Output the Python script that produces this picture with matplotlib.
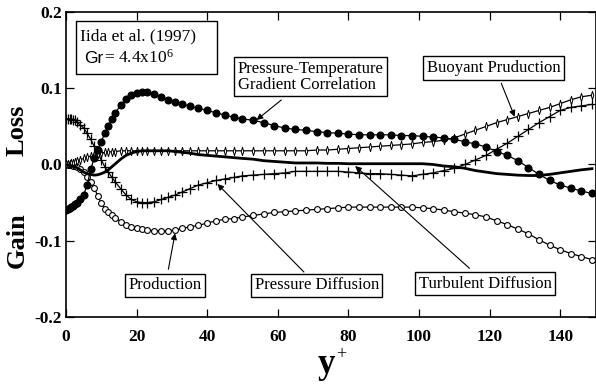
import matplotlib
matplotlib.use("Agg")
import matplotlib.pyplot as plt
from matplotlib.patches import Rectangle

plt.rcParams['font.family'] = ['Liberation Serif', 'DejaVu Serif']
plt.rcParams['mathtext.fontset'] = 'custom'
plt.rcParams['mathtext.rm'] = 'Liberation Serif'
plt.rcParams['mathtext.default'] = 'regular'

# ---------------- data ----------------
yplus = [0, 0.5, 1, 1.5, 2, 2.5, 3, 4, 5, 6, 7, 8, 9, 10, 11, 12, 13, 14, 15.5, 17,
         18.5, 20, 21.5, 23, 25, 27, 29, 31, 33, 35, 37.5, 40, 42.5, 45, 47.5, 50,
         53, 56, 59, 62, 65, 68, 71, 74, 77, 80, 83, 86, 89, 92, 95, 98, 101, 104,
         107, 110, 113, 116, 119, 122, 125, 128, 131, 134, 137, 140, 143, 146, 149]

ptgc = [-0.060, -0.059, -0.057, -0.056, -0.054, -0.052, -0.050, -0.046, -0.040, -0.027,
        -0.006, 0.008, 0.019, 0.030, 0.041, 0.051, 0.060, 0.068, 0.078, 0.086,
        0.091, 0.094, 0.095, 0.095, 0.093, 0.089, 0.085, 0.082, 0.079, 0.077,
        0.074, 0.071, 0.068, 0.065, 0.062, 0.060, 0.058, 0.055, 0.051, 0.048,
        0.046, 0.045, 0.043, 0.042, 0.041, 0.040, 0.039, 0.039, 0.039, 0.039,
        0.038, 0.038, 0.037, 0.036, 0.035, 0.033, 0.030, 0.027, 0.023, 0.017,
        0.012, 0.005, -0.004, -0.013, -0.021, -0.027, -0.031, -0.035, -0.038]

buoyant = [0.000, 0.0005, 0.001, 0.0015, 0.002, 0.003, 0.004, 0.006, 0.008, 0.010,
           0.011, 0.013, 0.014, 0.015, 0.016, 0.016, 0.017, 0.017, 0.018, 0.018,
           0.018, 0.018, 0.018, 0.018, 0.018, 0.018, 0.018, 0.018, 0.018, 0.018,
           0.018, 0.018, 0.018, 0.018, 0.018, 0.018, 0.018, 0.018, 0.018, 0.018,
           0.018, 0.018, 0.019, 0.019, 0.020, 0.021, 0.022, 0.023, 0.024, 0.025,
           0.026, 0.027, 0.029, 0.030, 0.032, 0.035, 0.040, 0.045, 0.050, 0.055,
           0.059, 0.063, 0.067, 0.071, 0.075, 0.080, 0.085, 0.089, 0.091]

turb_diff = [0.000, -0.0003, -0.001, -0.0015, -0.002, -0.003, -0.004, -0.007, -0.010, -0.012,
             -0.013, -0.014, -0.0135, -0.012, -0.010, -0.007, -0.003, 0.001, 0.007, 0.012,
             0.015, 0.017, 0.018, 0.018, 0.018, 0.018, 0.018, 0.017, 0.016, 0.015,
             0.013, 0.012, 0.011, 0.010, 0.009, 0.008, 0.007, 0.005, 0.004, 0.003,
             0.002, 0.002, 0.002, 0.0015, 0.0015, 0.001, 0.001, 0.001, 0.001, 0.001,
             0.001, 0.001, 0.001, 0.000, -0.002, -0.003, -0.005, -0.008, -0.010, -0.012,
             -0.013, -0.014, -0.0145, -0.0145, -0.013, -0.011, -0.009, -0.007, -0.0055]

press_diff = [0.060, 0.060, 0.060, 0.060, 0.059, 0.058, 0.056, 0.052, 0.048, 0.041,
              0.033, 0.024, 0.015, 0.006, -0.003, -0.010, -0.017, -0.023, -0.032, -0.040,
              -0.046, -0.049, -0.050, -0.050, -0.049, -0.046, -0.043, -0.040, -0.036, -0.032,
              -0.027, -0.024, -0.021, -0.019, -0.017, -0.015, -0.014, -0.013, -0.012, -0.011,
              -0.009, -0.009, -0.009, -0.009, -0.009, -0.010, -0.011, -0.012, -0.012, -0.013,
              -0.014, -0.015, -0.013, -0.011, -0.008, -0.005, 0.000, 0.006, 0.012, 0.020,
              0.028, 0.037, 0.046, 0.055, 0.063, 0.071, 0.075, 0.077, 0.079]

production = [0.000, -0.0002, -0.0005, -0.001, -0.0015, -0.002, -0.003, -0.006, -0.010, -0.016,
              -0.023, -0.031, -0.041, -0.051, -0.058, -0.063, -0.067, -0.070, -0.075, -0.079,
              -0.082, -0.084, -0.085, -0.086, -0.087, -0.087, -0.087, -0.086, -0.084, -0.082,
              -0.080, -0.077, -0.074, -0.072, -0.071, -0.069, -0.067, -0.065, -0.063, -0.062,
              -0.061, -0.060, -0.059, -0.058, -0.057, -0.056, -0.056, -0.056, -0.056, -0.056,
              -0.056, -0.056, -0.057, -0.058, -0.060, -0.062, -0.064, -0.066, -0.069, -0.074,
              -0.079, -0.085, -0.091, -0.099, -0.106, -0.112, -0.117, -0.121, -0.125]

xticks = [0, 20, 40, 60, 80, 100, 120, 140]
yticks = [-0.2, -0.1, 0.0, 0.1, 0.2]
ytick_labels = ['-0.2', '-0.1', '0.0', '0.1', '0.2']

# narrow vertical diamond marker
thin_diamond = [(-0.3, 0.0), (0.0, 1.0), (0.3, 0.0), (0.0, -1.0), (-0.3, 0.0)]

# ---------------- figure ----------------
fig = plt.figure(figsize=(5.96, 3.85), dpi=100)
ax = fig.add_axes([0.1107, 0.1774, 0.8885, 0.7907])

ax.plot(yplus, production, '-', color='k', lw=0.9, marker='o', ms=4.2,
        mfc='white', mec='k', mew=0.8, zorder=3)
ax.plot(yplus, press_diff, '-', color='k', lw=0.9, marker='+', ms=7,
        mew=0.9, zorder=3)
ax.plot(yplus, buoyant, '-', color='k', lw=0.9, marker=thin_diamond, ms=6,
        mfc='white', mec='k', mew=0.7, zorder=3)
ax.plot(yplus, turb_diff, '-', color='k', lw=2.0, zorder=4)
ax.plot(yplus, ptgc, '-', color='k', lw=0.9, marker='o', ms=4.8,
        mfc='k', mec='k', zorder=5)

ax.set_xlim(0, 150)
ax.set_ylim(-0.2, 0.2)
ax.set_xticks(xticks)
ax.set_yticks(yticks)
ax.set_yticklabels(ytick_labels)
ax.tick_params(direction='in', top=True, right=True, length=6, width=0.9,
               labelsize=12.5)
ax.tick_params(axis='x', pad=9)
ax.tick_params(axis='y', pad=3)
for lab in ax.get_xticklabels() + ax.get_yticklabels():
    lab.set_fontweight('bold')
for s in ax.spines.values():
    s.set_linewidth(1.2)

# Axis labels
fig.text(0.0285, 0.662, 'Loss', rotation=90, ha='center', va='center',
         fontsize=19, fontweight='bold')
fig.text(0.0285, 0.377, 'Gain', rotation=90, ha='center', va='center',
         fontsize=19, fontweight='bold')
fig.text(0.548, 0.031, 'y', ha='center', va='baseline', fontsize=25,
         fontweight='bold')
fig.text(0.572, 0.079, '+', ha='center', va='center', fontsize=13)

# Reference box
ax.add_patch(Rectangle((2.83, 0.1189), 39.9, 0.0697, fill=False, lw=1.0,
                       ec='k', zorder=6))
ax.text(3.96, 0.1636, 'Iida et al. (1997)', fontsize=12.5, va='baseline',
        ha='left', zorder=7)
ax.text(5.1, 0.1334, 'Gr', fontsize=12.5, va='baseline', ha='left',
        family=['Liberation Sans', 'DejaVu Sans'], zorder=7)
ax.text(10.9, 0.1334, '= 4.4x10$^{6}$', fontsize=12.5, va='baseline',
        ha='left', zorder=7)

# Annotation boxes
box = dict(boxstyle='square,pad=0.22', fc='white', ec='k', lw=1.0)
ax.text(69.3, 0.1156, 'Pressure-Temperature\nGradient Correlation', fontsize=12,
        ha='center', va='center', multialignment='left', bbox=box,
        linespacing=1.0, zorder=7)
ax.text(121.1, 0.1268, 'Buoyant Pruduction', fontsize=12, ha='center',
        va='center', bbox=box, zorder=7)
ax.text(28.0, -0.1586, 'Production', fontsize=12, ha='center', va='center',
        bbox=box, zorder=7)
ax.text(71.0, -0.1587, 'Pressure Diffusion', fontsize=12, ha='center',
        va='center', bbox=box, zorder=7)
ax.text(118.7, -0.1566, 'Turbulent Diffusion', fontsize=12, ha='center',
        va='center', bbox=box, zorder=7)

arrow = dict(arrowstyle='-|>', lw=0.8, color='k', mutation_scale=9,
             shrinkA=0, shrinkB=0)
ax.annotate('', xy=(54.0, 0.0585), xytext=(61.0, 0.0848), arrowprops=arrow, zorder=8)
ax.annotate('', xy=(127.1, 0.0628), xytext=(123.3, 0.1067), arrowprops=arrow, zorder=8)
ax.annotate('', xy=(30.9, -0.0904), xytext=(29.0, -0.1377), arrowprops=arrow, zorder=8)
ax.annotate('', xy=(42.9, -0.0256), xytext=(67.4, -0.1413), arrowprops=arrow, zorder=8)
ax.annotate('', xy=(81.9, -0.002), xytext=(114.3, -0.1364), arrowprops=arrow, zorder=8)

fig.savefig('out.png', dpi=100)
